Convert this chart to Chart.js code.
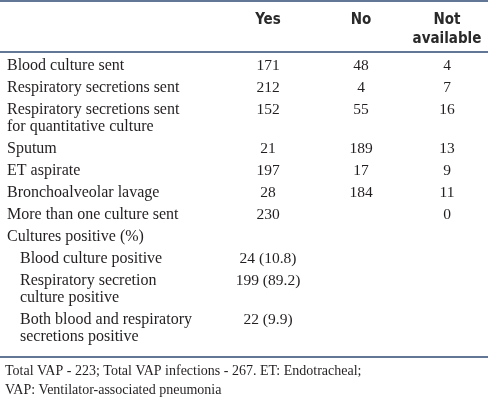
<!DOCTYPE html>
<html>
<head>
<meta charset="utf-8">
<script src="https://cdn.jsdelivr.net/npm/chart.js@4"></script>
<style>
body { margin: 0; background: #fff; }
#wrap { width: 488px; height: 402px; }
</style>
</head>
<body>
<div id="wrap"><canvas id="tableChart" width="488" height="402"></canvas></div>
<script>
// table content
const rowLabels = [
    ["Blood culture sent"],
    ["Respiratory secretions sent"],
    ["Respiratory secretions sent", "for quantitative culture"],
    ["Sputum"],
    ["ET aspirate"],
    ["Bronchoalveolar lavage"],
    ["More than one culture sent"],
    ["Cultures positive (%)"],
    ["Blood culture positive"],
    ["Respiratory secretion", "culture positive"],
    ["Both blood and respiratory", "secretions positive"]
];
const yesValues = ["171", "212", "152", "21", "197", "28", "230", "", "24 (10.8)", "199 (89.2)", "22 (9.9)"];
const noValues = ["48", "4", "55", "189", "17", "184", "", "", "", "", ""];
const naValues = ["4", "7", "16", "13", "9", "11", "0", "", "", "", ""];
const columnLabels = [["Yes"], ["No"], ["Not", "available"]];
const subRows = [8, 9, 10];
const footnote = [
    "Total VAP - 223; Total VAP infections - 267. ET: Endotracheal;",
    "VAP: Ventilator-associated pneumonia"
];

// layout in scale units (same as pixels here)
const layout = {
    colX: [268, 361, 447],
    labelX: 7,
    indent: 13,
    headerY: 20,
    headerLine: 19,
    topRule: 1,
    headRule: 52,
    firstRowY: 66,
    rowStep: 22,
    lineStep: 17,
    bottomRule: 357,
    footY: 371,
    footStep: 19
};

const labelFont = "16px 'Liberation Serif', 'Times New Roman', serif";
const numFont = "15.5px 'Liberation Serif', 'Times New Roman', serif";
const footFont = "14px 'Liberation Serif', 'Times New Roman', serif";
const headFont = "bold 15px 'Liberation Sans Narrow', 'DejaVu Sans Condensed', 'Roboto', sans-serif";
const ruleColor = "#2c4a72";
const textColor = "#231f20";

const tablePlugin = {
    id: "tableDraw",
    afterDraw(chart) {
        const ctx = chart.ctx;
        const x = chart.scales.x;
        const y = chart.scales.y;

        ctx.save();

        // rules
        ctx.strokeStyle = ruleColor;
        ctx.lineWidth = 1.5;
        [layout.topRule, layout.headRule, layout.bottomRule].forEach(r => {
            ctx.beginPath();
            ctx.moveTo(x.getPixelForValue(0), y.getPixelForValue(r));
            ctx.lineTo(x.getPixelForValue(488), y.getPixelForValue(r));
            ctx.stroke();
        });

        // header
        ctx.font = headFont;
        ctx.fillStyle = "#2a2a2a";
        ctx.textAlign = "center";
        ctx.textBaseline = "middle";
        columnLabels.forEach((lines, c) => {
            lines.forEach((t, i) => {
                ctx.fillText(t, x.getPixelForValue(layout.colX[c]),
                    y.getPixelForValue(layout.headerY + i * layout.headerLine));
            });
        });

        // body rows
        ctx.fillStyle = textColor;
        let rowY = layout.firstRowY;
        rowLabels.forEach((lines, r) => {
            ctx.font = labelFont;
            ctx.textAlign = "left";
            const lx = layout.labelX + (subRows.includes(r) ? layout.indent : 0);
            lines.forEach((t, i) => {
                ctx.fillText(t, x.getPixelForValue(lx), y.getPixelForValue(rowY + i * layout.lineStep));
            });
            ctx.font = numFont;
            ctx.textAlign = "center";
            [yesValues, noValues, naValues].forEach((col, c) => {
                if (col[r] !== "") {
                    ctx.fillText(col[r], x.getPixelForValue(layout.colX[c]), y.getPixelForValue(rowY));
                }
            });
            rowY += layout.rowStep + (lines.length - 1) * layout.lineStep;
        });

        // footnote
        ctx.font = footFont;
        ctx.textAlign = "left";
        footnote.forEach((t, i) => {
            ctx.fillText(t, x.getPixelForValue(5), y.getPixelForValue(layout.footY + i * layout.footStep));
        });

        ctx.restore();
    }
};

new Chart(document.getElementById("tableChart"), {
    type: "scatter",
    data: { datasets: [] },
    options: {
        responsive: false,
        animation: false,
        layout: { padding: 0 },
        scales: {
            x: { type: "linear", min: 0, max: 488, display: false },
            y: { type: "linear", min: 0, max: 402, reverse: true, display: false }
        },
        plugins: { legend: { display: false }, tooltip: { enabled: false } }
    },
    plugins: [tablePlugin]
});
</script>
</body>
</html>
